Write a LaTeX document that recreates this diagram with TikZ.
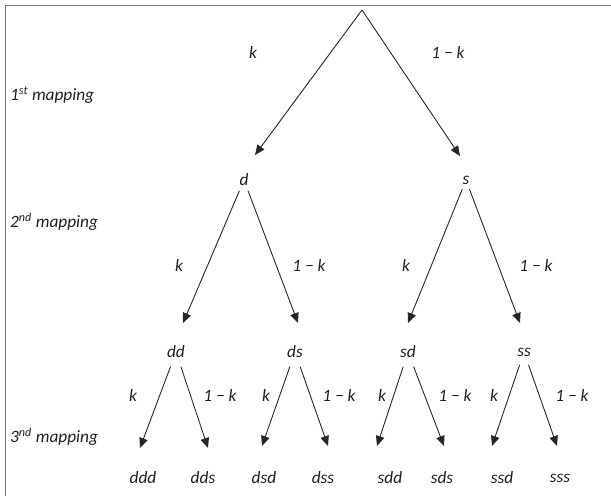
\documentclass[tikz,border=0pt]{standalone}
\usepackage{fontspec}
\setmainfont{Carlito}
\usetikzlibrary{arrows.meta}
\definecolor{txt}{RGB}{30,30,40}
\definecolor{frame}{RGB}{120,120,120}
\begin{document}
\begin{tikzpicture}[x=1pt,y=-1pt,
  lbl/.style={font=\itshape\fontsize{17.3}{20}\selectfont, text=txt, inner sep=0pt},
  tn/.style={lbl, inner sep=2pt, outer sep=0pt},
  ml/.style={lbl, anchor=west},
  arr/.style={-{Triangle[length=10pt,width=8.5pt]}, line width=0.9pt, draw=black!85},
  lvA/.style={arr},
  lvB/.style={arr, shorten <=3pt},
  lvC/.style={arr, shorten <=7pt}]
\useasboundingbox (0,0) rectangle (611,496);
\draw[frame, line width=1.3pt] (611,5.7) -- (5.7,5.7) -- (5.7,496);

% mapping labels
\node[ml] (m1) at (10,95) {1\textsuperscript{st} mapping};
\node[ml] (m2) at (10,222) {2\textsuperscript{nd} mapping};
\node[ml] (m3) at (10,437) {3\textsuperscript{nd} mapping};

% tree nodes
\coordinate (root) at (362,10);
\node[tn] (d) at (244,180) {d};
\node[tn] (s) at (466,180) {s};
\node[tn] (dd) at (176,352) {dd};
\node[tn] (ds) at (295,352) {ds};
\node[tn] (sd) at (408,352) {sd};
\node[tn] (ss) at (524,352) {ss};
\node[tn] (ddd) at (143,478) {ddd};
\node[tn] (dds) at (203,478) {dds};
\node[tn] (dsd) at (264,478) {dsd};
\node[tn] (dss) at (323,478) {dss};
\node[tn] (sdd) at (390,478) {sdd};
\node[tn] (sds) at (442,478) {sds};
\node[tn] (ssd) at (502,478) {ssd};
\node[tn] (sss) at (560,478) {sss};

% arrow tips
\coordinate (t-d) at (255,155);
\coordinate (t-s) at (460,156);
\coordinate (t-dd) at (183,323);
\coordinate (t-ds) at (298,323);
\coordinate (t-sd) at (408,323);
\coordinate (t-ss) at (520,323);
\coordinate (t-ddd) at (140,448);
\coordinate (t-dds) at (208,448);
\coordinate (t-dsd) at (262,446);
\coordinate (t-dss) at (328,446);
\coordinate (t-sdd) at (377,446);
\coordinate (t-sds) at (444,446);
\coordinate (t-ssd) at (492,446);
\coordinate (t-sss) at (557,446);

% connectors
\draw[lvA] (root) -- (t-d);
\draw[lvA] (root) -- (t-s);
\draw[lvB] (d) -- (t-dd);
\draw[lvB] (d) -- (t-ds);
\draw[lvB] (s) -- (t-sd);
\draw[lvB] (s) -- (t-ss);
\draw[lvC] (dd) -- (t-ddd);
\draw[lvC] (dd) -- (t-dds);
\draw[lvC] (ds) -- (t-dsd);
\draw[lvC] (ds) -- (t-dss);
\draw[lvC] (sd) -- (t-sdd);
\draw[lvC] (sd) -- (t-sds);
\draw[lvC] (ss) -- (t-ssd);
\draw[lvC] (ss) -- (t-sss);

% probability labels
\node[lbl] (k1) at (253,52) {k};
\node[lbl] (q1) at (448,52) {1 − k};
\node[lbl] (k2a) at (179,265) {k};
\node[lbl] (q2a) at (309,265) {1 − k};
\node[lbl] (k2b) at (406,265) {k};
\node[lbl] (q2b) at (536,265) {1 − k};
\node[lbl] (k3a) at (133,395) {k};
\node[lbl] (q3a) at (220,395) {1 − k};
\node[lbl] (k3b) at (266,395) {k};
\node[lbl] (q3b) at (339,395) {1 − k};
\node[lbl] (k3c) at (382,395) {k};
\node[lbl] (q3c) at (455,395) {1 − k};
\node[lbl] (k3d) at (494,395) {k};
\node[lbl] (q3d) at (572,395) {1 − k};
\end{tikzpicture}
\end{document}
